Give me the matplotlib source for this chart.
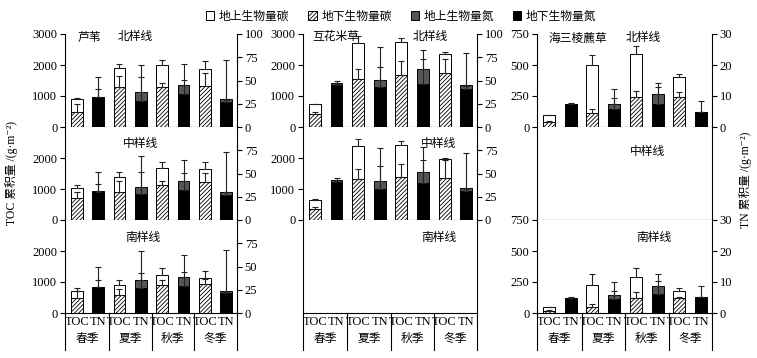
import numpy as np
import matplotlib
matplotlib.use("Agg")
import matplotlib.pyplot as plt
from matplotlib.patches import Patch

plt.rcParams['font.family'] = ['Liberation Serif', 'Noto Sans CJK SC', 'DejaVu Sans']
plt.rcParams['hatch.linewidth'] = 0.6
plt.rcParams['axes.linewidth'] = 0.8

# categories
seasons = ["春季", "夏季", "秋季", "冬季"]
transects = ["北样线", "中样线", "南样线"]
species = ["芦苇", "互花米草", "海三棱藨草"]

# 芦苇 (rows: north, middle, south; cols: spring..winter)
reed_agC = [[410, 620, 720, 560], [310, 500, 540, 420], [240, 330, 330, 180]]
reed_bgC = [[500, 1280, 1280, 1320], [710, 900, 1130, 1220], [470, 580, 910, 950]]
reed_totC_sd = [[30, 140, 170, 250], [110, 150, 190, 240], [90, 140, 200, 220]]
reed_bgC_sd = [[250, 370, 130, 410], [200, 360, 130, 310], [250, 200, 140, 150]]
reed_agN = [[0.6, 10, 10, 3.5], [0.5, 7, 10, 3], [0.5, 9, 10, 3]]
reed_bgN = [[32, 28, 35.5, 26.5], [30.5, 28, 32, 27], [27.5, 27, 29, 21]]
reed_totN_sd = [[21, 29, 22, 42], [21, 34, 23, 43], [22, 31, 23, 44]]
reed_bgN_sd = [[9, 26, 15, 3], [8.5, 24, 19, 3], [7.5, 16, 15, 2]]

# 互花米草 (no south transect)
spart_agC = [[300, 1160, 1040, 640], [300, 1070, 1030, 600], None]
spart_bgC = [[430, 1550, 1690, 1730], [360, 1310, 1400, 1370], None]
spart_totC_sd = [[20, 240, 140, 50], [10, 240, 110, 30], None]
spart_bgC_sd = [[50, 330, 430, 470], [60, 330, 400, 570], None]
spart_agN = [[2.5, 8, 16, 4], [2, 9, 12, 3], None]
spart_bgN = [[45, 43, 46, 41], [41, 33, 40, 31], None]
spart_totN_sd = [[2.5, 35, 21, 35], [2, 35, 26, 38], None]
spart_bgN_sd = [[1, 21, 27, 3], [1, 25, 25, 2], None]

# 海三棱藨草 (no middle transect)
scir_agC = [[50, 383, 347, 166], None, [27, 178, 175, 59]]
scir_bgC = [[44, 114, 239, 239], None, [19, 48, 118, 118]]
scir_totC_sd = [[4, 85, 70, 23], None, [3, 86, 67, 27]]
scir_bgC_sd = [[3, 28, 55, 41], None, [2, 22, 49, 15]]
scir_agN = [[0.1, 1.6, 3.5, 0], None, [0.1, 1.3, 2.6, 0]]
scir_bgN = [[7.3, 5.9, 7.3, 4.7], None, [4.9, 4.5, 6.1, 5.1]]
scir_totN_sd = [[0.2, 4.7, 3.4, 3.7], None, [0.1, 4.3, 3.8, 3.7]]
scir_bgN_sd = [[0.1, 3.4, 5.6, 0.2], None, [0.1, 2.6, 4.2, 0.2]]

all_data = [
    (reed_agC, reed_bgC, reed_totC_sd, reed_bgC_sd, reed_agN, reed_bgN, reed_totN_sd, reed_bgN_sd),
    (spart_agC, spart_bgC, spart_totC_sd, spart_bgC_sd, spart_agN, spart_bgN, spart_totN_sd, spart_bgN_sd),
    (scir_agC, scir_bgC, scir_totC_sd, scir_bgC_sd, scir_agN, scir_bgN, scir_totN_sd, scir_bgN_sd),
]
c_max = [3000, 3000, 750]
n_max = [100, 100, 30]

W, H = 757, 358
col_left = [65, 303, 537]
col_width = [172, 174, 175]
row_top = [34, 127, 220]
row_h = 93

# label positions (axes fraction, top of text)
species_pos = [(0.14, 1.03), (0.19, 1.04), (0.235, 1.03)]
transect_pos = [
    [(0.41, 1.04), (0.44, 0.89), (0.45, 0.88)],
    [(0.73, 1.04), (0.78, 0.89), (0.78, 0.88)],
    [(0.61, 1.03), (0.63, 0.81), (0.67, 0.88)],
]

toc_x = np.array([0, 2, 4, 6])
tn_x = np.array([1, 3, 5, 7])
bw = 0.55
ecol = "#222222"
hatch = '////////'
cjk = ['Noto Sans CJK SC', 'DejaVu Sans']
fs = 8.5

fig = plt.figure(figsize=(W / 100, H / 100), dpi=100)

for c in range(3):
    agC, bgC, totC_sd, bgC_sd, agN, bgN, totN_sd, bgN_sd = all_data[c]
    for r in range(3):
        ax = fig.add_axes([col_left[c] / W, 1 - (row_top[r] + row_h) / H,
                           col_width[c] / W, row_h / H])
        ax.set_xlim(-0.55, 7.5)
        ax.set_ylim(0, c_max[c])
        ax.set_xticks([])
        ax.spines['top'].set_visible(False)
        ax.tick_params(axis='y', direction='out', length=3.5, width=0.8,
                       labelsize=9, pad=2)
        if agC[r] is None:
            ax.set_yticks([])
            ax.spines['right'].set_visible(True)
        else:
            ax.spines['right'].set_visible(False)
            bc = np.array(bgC[r])
            tc = bc + np.array(agC[r])
            ax.bar(toc_x, bc, bw, color='white', edgecolor='k', hatch=hatch,
                   linewidth=0.7, zorder=2)
            ax.bar(toc_x, agC[r], bw, bottom=bc, color='white', edgecolor='k',
                   linewidth=0.7, zorder=2)
            ax.errorbar(toc_x, bc, yerr=[np.zeros(4), bgC_sd[r]], fmt='none',
                        ecolor=ecol, elinewidth=0.8, capsize=2.5, capthick=0.8, zorder=3)
            ax.errorbar(toc_x, tc, yerr=[np.zeros(4), totC_sd[r]], fmt='none',
                        ecolor=ecol, elinewidth=0.8, capsize=2.5, capthick=0.8, zorder=3)
            if c == 2 or r == 0:
                ax.set_yticks(np.linspace(0, c_max[c], 4))
            else:
                ax.set_yticks([0, 1000, 2000])
            ax.set_yticklabels([str(int(v)) for v in ax.get_yticks()])

            ax2 = ax.twinx()
            ax2.set_ylim(0, n_max[c])
            for s in ['left', 'top', 'bottom']:
                ax2.spines[s].set_visible(False)
            bn = np.array(bgN[r])
            tn = bn + np.array(agN[r])
            ax2.bar(tn_x, bn, bw, color='black', edgecolor='k', linewidth=0.7, zorder=2)
            ax2.bar(tn_x, agN[r], bw, bottom=bn, color='#555555', edgecolor='k',
                    linewidth=0.7, zorder=2)
            ax2.errorbar(tn_x, bn, yerr=[np.zeros(4), bgN_sd[r]], fmt='none',
                         ecolor=ecol, elinewidth=0.8, capsize=2.5, capthick=0.8, zorder=3)
            ax2.errorbar(tn_x, tn, yerr=[np.zeros(4), totN_sd[r]], fmt='none',
                         ecolor=ecol, elinewidth=0.8, capsize=2.5, capthick=0.8, zorder=3)
            if c == 2 or r == 0:
                ax2.set_yticks(np.linspace(0, n_max[c], 5 if c < 2 else 4))
            else:
                ax2.set_yticks([0, 25, 50, 75])
            ax2.set_yticklabels([str(int(v)) for v in ax2.get_yticks()])
            ax2.tick_params(axis='y', direction='out', length=3.5, width=0.8,
                            labelsize=9, pad=2)

        if r == 0:
            ax.text(*species_pos[c], species[c], transform=ax.transAxes,
                    ha='center', va='top', fontsize=fs, family=cjk, zorder=5)
        tx, ty = transect_pos[c][r]
        ax.text(tx, ty, transects[r], transform=ax.transAxes,
                ha='center', va='top', fontsize=fs, family=cjk, zorder=5)

        if r == 2:
            trans = ax.get_xaxis_transform()
            for xs in [-0.55, 1.5, 3.5, 5.5, 7.5]:
                ax.plot([xs, xs], [0, -0.40], color='k', lw=0.8,
                        transform=trans, clip_on=False)
            for x in toc_x:
                ax.text(x, -0.03, "TOC", transform=trans, ha='center', va='top', fontsize=9)
            for x in tn_x:
                ax.text(x, -0.03, "TN", transform=trans, ha='center', va='top', fontsize=9)
            for i, s in enumerate(seasons):
                ax.text(2 * i + 0.5, -0.20, s, transform=trans, ha='center', va='top',
                        fontsize=fs, family=cjk)

fig.text(0.015, 0.517, "TOC 累积量 /(g·m⁻²)", rotation=90, ha='center',
         va='center', fontsize=fs)
fig.text(0.985, 0.497, "TN 累积量 /(g·m⁻²)", rotation=90, ha='center',
         va='center', fontsize=fs)

handles = [Patch(facecolor='white', edgecolor='k', linewidth=0.7),
           Patch(facecolor='white', edgecolor='k', hatch=hatch, linewidth=0.7),
           Patch(facecolor='#555555', edgecolor='k', linewidth=0.7),
           Patch(facecolor='black', edgecolor='k', linewidth=0.7)]
labels = ["地上生物量碳", "地下生物量碳", "地上生物量氮", "地下生物量氮"]
fig.legend(handles, labels, loc='center', bbox_to_anchor=(0.53, 0.955), ncol=4,
           frameon=False, handlelength=0.7, handleheight=0.7, handletextpad=0.4,
           columnspacing=1.6, prop={'family': cjk, 'size': fs})

fig.savefig("out.png", dpi=100)
